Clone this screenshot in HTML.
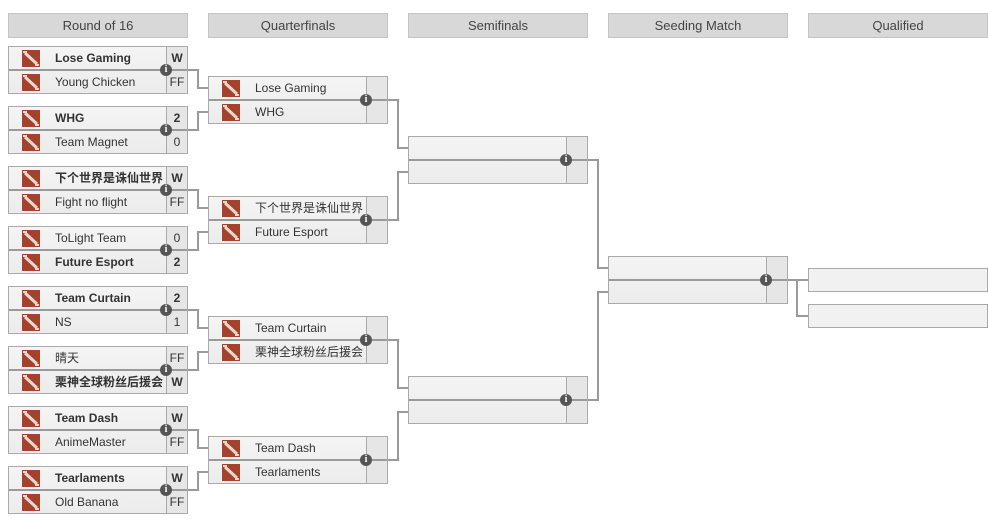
<!DOCTYPE html>
<html><head><meta charset="utf-8"><style>
body{margin:0;width:988px;height:522px;background:#fff;position:relative;overflow:hidden;font-family:"Liberation Sans","Noto Sans CJK SC",sans-serif;font-size:12px;color:#333}
.h{position:absolute;top:13px;width:178px;height:23px;background:#d8d8d8;border:1px solid #c4c4c4;text-align:center;line-height:23px;font-size:13px;color:#444}
.m{position:absolute;width:178px;height:46px;border:1px solid #aaa;background:linear-gradient(#f4f4f4,#ececec)}
.r{position:absolute;left:0;width:178px;height:23px;line-height:23px}
.r1{top:0}.r2{top:24px}
.m .div{position:absolute;left:0;top:22px;width:178px;height:2px;background:#9a9a9a}
.sc{position:absolute;left:157px;top:0;width:1px;height:46px;background:#aaa}
.scb{position:absolute;left:158px;top:0;width:20px;height:46px;background:#e6e6e6}
.lg{position:absolute;left:13px;top:3px;width:18px;height:17px}
.nm{position:absolute;left:46px;top:0}
.s{position:absolute;left:158px;width:20px;text-align:center;top:0}
b{font-weight:bold}
.i{position:absolute;width:12px;height:12px;border-radius:6px;background:#555;color:#fff;font:bold 10px/12px "Liberation Serif",serif;text-align:center;top:17px;left:151px;z-index:2}
.q{position:absolute;left:808px;width:178px;height:22px;border:1px solid #aaa;background:#f1f1f1}
svg.c{position:absolute;left:0;top:0}
</style></head><body>
<div class="h" style="left:8px">Round of 16</div>
<div class="h" style="left:208px">Quarterfinals</div>
<div class="h" style="left:408px">Semifinals</div>
<div class="h" style="left:608px">Seeding Match</div>
<div class="h" style="left:808px">Qualified</div>

<svg class="c" width="988" height="522" fill="none" stroke="#9a9a9a" stroke-width="2">
<path d="M188 70H198V88H208M188 130H198V112H208"/>
<path d="M188 190H198V208H208M188 250H198V232H208"/>
<path d="M188 310H198V328H208M188 370H198V352H208"/>
<path d="M188 430H198V448H208M188 490H198V472H208"/>
<path d="M388 100H398V148H408M388 220H398V172H408"/>
<path d="M388 340H398V388H408M388 460H398V412H408"/>
<path d="M588 160H598V268H608M588 400H598V292H608"/>
<path d="M788 280H797M797 280V316H808M797 280H808"/>
</svg>

<!-- R16 -->
<div class="m" style="left:8px;top:46px"><div class="scb"></div><div class="sc"></div><div class="r r1"><svg class="lg"><rect width="18" height="17" fill="#a3432d"/><path d="M3 3L15 14" stroke="#f2d8cc" stroke-width="3"/><path d="M1 1h4v2H1zM13 14h4v2h-4z" fill="#f2d8cc"/></svg><span class="nm"><b>Lose Gaming</b></span><span class="s"><b>W</b></span></div><div class="div"></div><div class="r r2"><svg class="lg"><rect width="18" height="17" fill="#a3432d"/><path d="M3 3L15 14" stroke="#f2d8cc" stroke-width="3"/><path d="M1 1h4v2H1zM13 14h4v2h-4z" fill="#f2d8cc"/></svg><span class="nm">Young Chicken</span><span class="s">FF</span></div><div class="i">i</div></div>
<div class="m" style="left:8px;top:106px"><div class="scb"></div><div class="sc"></div><div class="r r1"><svg class="lg"><rect width="18" height="17" fill="#a3432d"/><path d="M3 3L15 14" stroke="#f2d8cc" stroke-width="3"/><path d="M1 1h4v2H1zM13 14h4v2h-4z" fill="#f2d8cc"/></svg><span class="nm"><b>WHG</b></span><span class="s"><b>2</b></span></div><div class="div"></div><div class="r r2"><svg class="lg"><rect width="18" height="17" fill="#a3432d"/><path d="M3 3L15 14" stroke="#f2d8cc" stroke-width="3"/><path d="M1 1h4v2H1zM13 14h4v2h-4z" fill="#f2d8cc"/></svg><span class="nm">Team Magnet</span><span class="s">0</span></div><div class="i">i</div></div>
<div class="m" style="left:8px;top:166px"><div class="scb"></div><div class="sc"></div><div class="r r1"><svg class="lg"><rect width="18" height="17" fill="#a3432d"/><path d="M3 3L15 14" stroke="#f2d8cc" stroke-width="3"/><path d="M1 1h4v2H1zM13 14h4v2h-4z" fill="#f2d8cc"/></svg><span class="nm"><b>下个世界是诛仙世界</b></span><span class="s"><b>W</b></span></div><div class="div"></div><div class="r r2"><svg class="lg"><rect width="18" height="17" fill="#a3432d"/><path d="M3 3L15 14" stroke="#f2d8cc" stroke-width="3"/><path d="M1 1h4v2H1zM13 14h4v2h-4z" fill="#f2d8cc"/></svg><span class="nm">Fight no flight</span><span class="s">FF</span></div><div class="i">i</div></div>
<div class="m" style="left:8px;top:226px"><div class="scb"></div><div class="sc"></div><div class="r r1"><svg class="lg"><rect width="18" height="17" fill="#a3432d"/><path d="M3 3L15 14" stroke="#f2d8cc" stroke-width="3"/><path d="M1 1h4v2H1zM13 14h4v2h-4z" fill="#f2d8cc"/></svg><span class="nm">ToLight Team</span><span class="s">0</span></div><div class="div"></div><div class="r r2"><svg class="lg"><rect width="18" height="17" fill="#a3432d"/><path d="M3 3L15 14" stroke="#f2d8cc" stroke-width="3"/><path d="M1 1h4v2H1zM13 14h4v2h-4z" fill="#f2d8cc"/></svg><span class="nm"><b>Future Esport</b></span><span class="s"><b>2</b></span></div><div class="i">i</div></div>
<div class="m" style="left:8px;top:286px"><div class="scb"></div><div class="sc"></div><div class="r r1"><svg class="lg"><rect width="18" height="17" fill="#a3432d"/><path d="M3 3L15 14" stroke="#f2d8cc" stroke-width="3"/><path d="M1 1h4v2H1zM13 14h4v2h-4z" fill="#f2d8cc"/></svg><span class="nm"><b>Team Curtain</b></span><span class="s"><b>2</b></span></div><div class="div"></div><div class="r r2"><svg class="lg"><rect width="18" height="17" fill="#a3432d"/><path d="M3 3L15 14" stroke="#f2d8cc" stroke-width="3"/><path d="M1 1h4v2H1zM13 14h4v2h-4z" fill="#f2d8cc"/></svg><span class="nm">NS</span><span class="s">1</span></div><div class="i">i</div></div>
<div class="m" style="left:8px;top:346px"><div class="scb"></div><div class="sc"></div><div class="r r1"><svg class="lg"><rect width="18" height="17" fill="#a3432d"/><path d="M3 3L15 14" stroke="#f2d8cc" stroke-width="3"/><path d="M1 1h4v2H1zM13 14h4v2h-4z" fill="#f2d8cc"/></svg><span class="nm">晴天</span><span class="s">FF</span></div><div class="div"></div><div class="r r2"><svg class="lg"><rect width="18" height="17" fill="#a3432d"/><path d="M3 3L15 14" stroke="#f2d8cc" stroke-width="3"/><path d="M1 1h4v2H1zM13 14h4v2h-4z" fill="#f2d8cc"/></svg><span class="nm"><b>栗神全球粉丝后援会</b></span><span class="s"><b>W</b></span></div><div class="i">i</div></div>
<div class="m" style="left:8px;top:406px"><div class="scb"></div><div class="sc"></div><div class="r r1"><svg class="lg"><rect width="18" height="17" fill="#a3432d"/><path d="M3 3L15 14" stroke="#f2d8cc" stroke-width="3"/><path d="M1 1h4v2H1zM13 14h4v2h-4z" fill="#f2d8cc"/></svg><span class="nm"><b>Team Dash</b></span><span class="s"><b>W</b></span></div><div class="div"></div><div class="r r2"><svg class="lg"><rect width="18" height="17" fill="#a3432d"/><path d="M3 3L15 14" stroke="#f2d8cc" stroke-width="3"/><path d="M1 1h4v2H1zM13 14h4v2h-4z" fill="#f2d8cc"/></svg><span class="nm">AnimeMaster</span><span class="s">FF</span></div><div class="i">i</div></div>
<div class="m" style="left:8px;top:466px"><div class="scb"></div><div class="sc"></div><div class="r r1"><svg class="lg"><rect width="18" height="17" fill="#a3432d"/><path d="M3 3L15 14" stroke="#f2d8cc" stroke-width="3"/><path d="M1 1h4v2H1zM13 14h4v2h-4z" fill="#f2d8cc"/></svg><span class="nm"><b>Tearlaments</b></span><span class="s"><b>W</b></span></div><div class="div"></div><div class="r r2"><svg class="lg"><rect width="18" height="17" fill="#a3432d"/><path d="M3 3L15 14" stroke="#f2d8cc" stroke-width="3"/><path d="M1 1h4v2H1zM13 14h4v2h-4z" fill="#f2d8cc"/></svg><span class="nm">Old Banana</span><span class="s">FF</span></div><div class="i">i</div></div>

<!-- QF -->
<div class="m" style="left:208px;top:76px"><div class="scb"></div><div class="sc"></div><div class="r r1"><svg class="lg"><rect width="18" height="17" fill="#a3432d"/><path d="M3 3L15 14" stroke="#f2d8cc" stroke-width="3"/><path d="M1 1h4v2H1zM13 14h4v2h-4z" fill="#f2d8cc"/></svg><span class="nm">Lose Gaming</span></div><div class="div"></div><div class="r r2"><svg class="lg"><rect width="18" height="17" fill="#a3432d"/><path d="M3 3L15 14" stroke="#f2d8cc" stroke-width="3"/><path d="M1 1h4v2H1zM13 14h4v2h-4z" fill="#f2d8cc"/></svg><span class="nm">WHG</span></div><div class="i">i</div></div>
<div class="m" style="left:208px;top:196px"><div class="scb"></div><div class="sc"></div><div class="r r1"><svg class="lg"><rect width="18" height="17" fill="#a3432d"/><path d="M3 3L15 14" stroke="#f2d8cc" stroke-width="3"/><path d="M1 1h4v2H1zM13 14h4v2h-4z" fill="#f2d8cc"/></svg><span class="nm">下个世界是诛仙世界</span></div><div class="div"></div><div class="r r2"><svg class="lg"><rect width="18" height="17" fill="#a3432d"/><path d="M3 3L15 14" stroke="#f2d8cc" stroke-width="3"/><path d="M1 1h4v2H1zM13 14h4v2h-4z" fill="#f2d8cc"/></svg><span class="nm">Future Esport</span></div><div class="i">i</div></div>
<div class="m" style="left:208px;top:316px"><div class="scb"></div><div class="sc"></div><div class="r r1"><svg class="lg"><rect width="18" height="17" fill="#a3432d"/><path d="M3 3L15 14" stroke="#f2d8cc" stroke-width="3"/><path d="M1 1h4v2H1zM13 14h4v2h-4z" fill="#f2d8cc"/></svg><span class="nm">Team Curtain</span></div><div class="div"></div><div class="r r2"><svg class="lg"><rect width="18" height="17" fill="#a3432d"/><path d="M3 3L15 14" stroke="#f2d8cc" stroke-width="3"/><path d="M1 1h4v2H1zM13 14h4v2h-4z" fill="#f2d8cc"/></svg><span class="nm">栗神全球粉丝后援会</span></div><div class="i">i</div></div>
<div class="m" style="left:208px;top:436px"><div class="scb"></div><div class="sc"></div><div class="r r1"><svg class="lg"><rect width="18" height="17" fill="#a3432d"/><path d="M3 3L15 14" stroke="#f2d8cc" stroke-width="3"/><path d="M1 1h4v2H1zM13 14h4v2h-4z" fill="#f2d8cc"/></svg><span class="nm">Team Dash</span></div><div class="div"></div><div class="r r2"><svg class="lg"><rect width="18" height="17" fill="#a3432d"/><path d="M3 3L15 14" stroke="#f2d8cc" stroke-width="3"/><path d="M1 1h4v2H1zM13 14h4v2h-4z" fill="#f2d8cc"/></svg><span class="nm">Tearlaments</span></div><div class="i">i</div></div>

<!-- SF / seeding -->
<div class="m" style="left:408px;top:136px"><div class="scb"></div><div class="sc"></div><div class="div"></div><div class="i">i</div></div>
<div class="m" style="left:408px;top:376px"><div class="scb"></div><div class="sc"></div><div class="div"></div><div class="i">i</div></div>
<div class="m" style="left:608px;top:256px"><div class="scb"></div><div class="sc"></div><div class="div"></div><div class="i">i</div></div>

<div class="q" style="top:268px"></div>
<div class="q" style="top:304px"></div>
</body></html>
